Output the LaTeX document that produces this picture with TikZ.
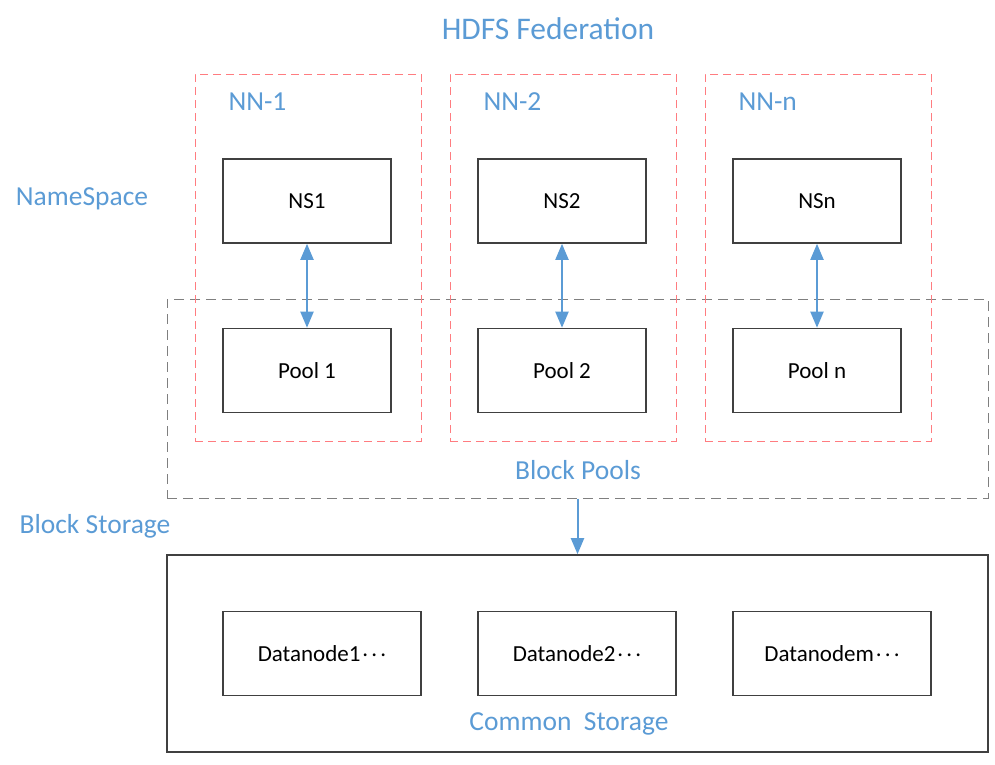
\documentclass[tikz,border=0pt]{standalone}
\usepackage{fontspec}
\setmainfont{Carlito}
\usetikzlibrary{arrows.meta}
\definecolor{fedblue}{HTML}{5B9BD5}
\definecolor{nnred}{HTML}{FF7C80}
\definecolor{poolgray}{HTML}{7F7F7F}
\definecolor{boxgray}{HTML}{404040}
\newcommand{\dotsmid}{\kern0.08em\raisebox{0.45ex}{.\kern0.14em.\kern0.14em.}}
\begin{document}
\begin{tikzpicture}[x=1pt, y=-1pt,
    inner/.style ={rectangle, draw=boxgray, line width=1.6pt, minimum width=168pt, minimum height=84pt, font=\fontsize{23}{27}\selectfont},
    datanode/.style ={inner, minimum width=198pt},
    namenode/.style ={rectangle, draw=nnred, line width=1pt, dash pattern=on 8pt off 5pt, minimum width=226pt, minimum height=367pt},
    pools/.style ={rectangle, draw=poolgray, line width=1pt, dash pattern=on 10pt off 6pt, minimum width=821pt, minimum height=199pt},
    label/.style ={text=fedblue, font=\fontsize{27.5}{32}\selectfont},
    link/.style ={draw=fedblue, line width=2pt, -{Triangle[length=16pt,width=13pt]}}]
   \useasboundingbox (0,0) rectangle (995,764);
   \node[label, font=\fontsize{31.5}{36}\selectfont] (title) at (548,29) {HDFS Federation};

   % block pools and name nodes
   \node[pools] (bp) at (577.5,398.5) {};
   \node[namenode] (nn1) at (308,257.5) {};
   \node[namenode] (nn2) at (563,257.5) {};
   \node[namenode] (nnn) at (818,257.5) {};
   \node[label, anchor=west] (nn1lab) at (225,102) {NN-1};
   \node[label, anchor=west] (nn2lab) at (480,102) {NN-2};
   \node[label, anchor=west] (nnnlab) at (735,102) {NN-n};

   \node[inner] (ns1) at (307,201) {NS1};
   \node[inner] (ns2) at (562,201) {NS2};
   \node[inner] (nsn) at (817,201) {NSn};
   \node[inner] (pool1) at (307,370.5) {Pool 1};
   \node[inner] (pool2) at (562,370.5) {Pool 2};
   \node[inner] (pooln) at (817,370.5) {Pool n};

   \draw[link, {Triangle[length=16pt,width=13pt]}-{Triangle[length=16pt,width=13pt]}] (ns1) to (pool1);
   \draw[link, {Triangle[length=16pt,width=13pt]}-{Triangle[length=16pt,width=13pt]}] (ns2) to (pool2);
   \draw[link, {Triangle[length=16pt,width=13pt]}-{Triangle[length=16pt,width=13pt]}] (nsn) to (pooln);

   \node[label] (nslab) at (82,199) {NameSpace};
   \node[label] (bplab) at (578,470) {Block Pools};
   \node[label] (bslab) at (95,526) {Block Storage};

   % common storage
   \node[rectangle, draw=boxgray, line width=1.6pt, minimum width=821pt, minimum height=197pt] (cs) at (577.5,653.5) {};
   \draw[link] (bp) to (cs);
   \node[datanode] (dn1) at (322,653.5) {Datanode1\dotsmid};
   \node[datanode] (dn2) at (577,653.5) {Datanode2\dotsmid};
   \node[datanode] (dnm) at (832,653.5) {Datanodem\dotsmid};
   \node[label] (cslab) at (569,724) {Common~~Storage};
 \end{tikzpicture}
\end{document}
